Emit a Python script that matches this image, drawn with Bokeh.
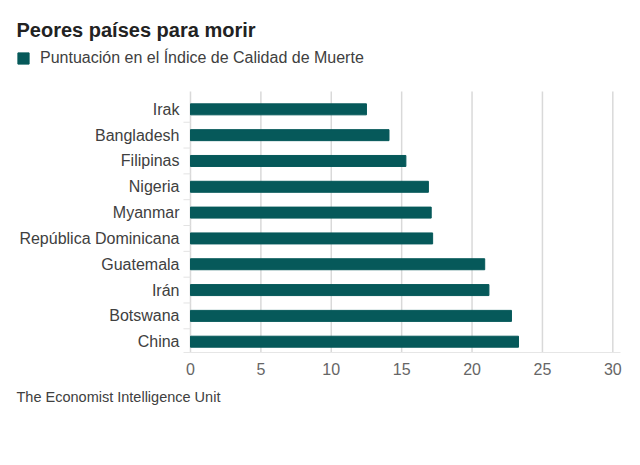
from bokeh.plotting import figure
from bokeh.models import Range1d, Title, Legend, LegendItem, Label
from bokeh.core.properties import value
from bokeh.embed import file_html
from bokeh.resources import INLINE

countries = ["Irak", "Bangladesh", "Filipinas", "Nigeria", "Myanmar",
             "República Dominicana", "Guatemala", "Irán", "Botswana", "China"]
scores = [12.5, 14.1, 15.3, 16.9, 17.1, 17.2, 20.9, 21.2, 22.8, 23.3]
x_ticks = [0, 5, 10, 15, 20, 25, 30]

title_text = "Peores países para morir"
legend_text = "Puntuación en el Índice de Calidad de Muerte"
source_text = "The Economist Intelligence Unit"

FONT = "Liberation Sans"
BAR = "#06595a"
GRID = "#d9d9d9"

n = len(countries)
ypos = [n - 1 - i for i in range(n)]          # first country on top
boundaries = [k + 0.5 for k in range(n - 1)]  # between category rows
x_lo = -13.497
y_lo, y_hi = -0.418, 13.215
grid_top = n - 0.31

p = figure(width=630, height=430, title=None,
           x_range=Range1d(x_lo, 30.546), y_range=Range1d(y_lo, y_hi),
           y_axis_type=None, output_backend="svg", toolbar_location=None,
           min_border_left=0, min_border_right=10,
           min_border_top=0, min_border_bottom=78)
p.outline_line_color = None
p.xgrid.grid_line_color = None
p.ygrid.grid_line_color = None

# vertical grid lines over the category area
p.segment(x0=x_ticks, x1=x_ticks, y0=y_lo, y1=grid_top, line_color=GRID, line_width=1.5)
# small category separators left of the value axis
p.segment(x0=-0.5, x1=0, y0=boundaries, y1=boundaries, line_color="#e3e3e3", line_width=1)

bars = p.hbar(y=ypos, right=scores, left=0, height=0.426, color=BAR)

# category labels
p.text(x=0, y=ypos, text=countries, x_offset=-11, text_align="right",
       text_baseline="middle", text_font=value(FONT), text_font_size="16px",
       text_color="#404040")

p.xaxis.ticker = x_ticks
p.xaxis.bounds = (-0.5, 30.546)
p.xaxis.axis_line_color = "#e6e6e6"
p.xaxis.major_tick_line_color = None
p.xaxis.minor_tick_line_color = None
p.xaxis.major_label_text_font = FONT
p.xaxis.major_label_text_font_size = "16px"
p.xaxis.major_label_text_color = "#666666"
p.xaxis.major_label_standoff = 4

p.add_layout(Label(x=16, y=322.7, x_units="screen", y_units="screen", text=title_text,
                   text_font=FONT, text_font_size="20px", text_font_style="bold",
                   text_color="#222222", text_baseline="alphabetic"))

leg = Legend(items=[LegendItem(label=legend_text, renderers=[bars])],
             location=(16, 285.5), orientation="horizontal",
             border_line_color=None, background_fill_alpha=0,
             label_text_font=FONT, label_text_font_size="16px",
             label_text_color="#404040", glyph_width=14, glyph_height=14,
             label_height=14, padding=0, margin=0, label_standoff=10)
p.add_layout(leg)

src = Title(text=source_text, align="left", offset=16, standoff=18,
            text_font=FONT, text_font_size="14.5px", text_font_style="normal",
            text_color="#404040")
p.add_layout(src, "below")

open("out.html", "w").write(file_html(p, INLINE))
